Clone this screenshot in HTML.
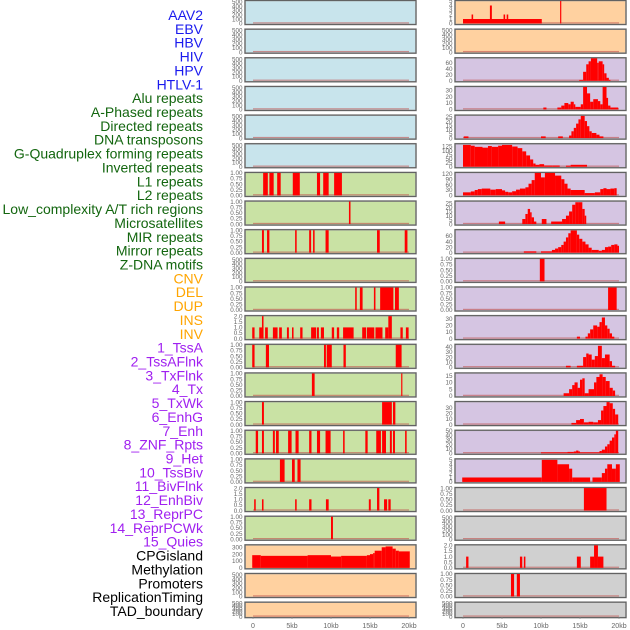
<!DOCTYPE html>
<html><head><meta charset="utf-8"><style>
html,body{margin:0;padding:0;background:#fff;}
svg{display:block;font-family:"Liberation Sans",sans-serif;}
</style></head><body>
<svg id="chart" width="630" height="630" viewBox="0 0 630 630" xmlns="http://www.w3.org/2000/svg"></svg>
<script>
const labels = ["AAV2","EBV","HBV","HIV","HPV","HTLV-1","Alu repeats","A-Phased repeats","Directed repeats","DNA transposons","G-Quadruplex forming repeats","Inverted repeats","L1 repeats","L2 repeats","Low_complexity A/T rich regions","Microsatellites","MIR repeats","Mirror repeats","Z-DNA motifs","CNV","DEL","DUP","INS","INV","1_TssA","2_TssAFlnk","3_TxFlnk","4_Tx","5_TxWk","6_EnhG","7_Enh","8_ZNF_Rpts","9_Het","10_TssBiv","11_BivFlnk","12_EnhBiv","13_ReprPC","14_ReprPCWk","15_Quies","CPGisland","Methylation","Promoters","ReplicationTiming","TAD_boundary"];
const labelGroups = ["v","v","v","v","v","v","r","r","r","r","r","r","r","r","r","r","r","r","r","s","s","s","s","s","c","c","c","c","c","c","c","c","c","c","c","c","c","c","c","k","k","k","k","k"];
const xTicks = [0,5,10,15,20];
const xTickLabels = ["0","5kb","10kb","15kb","20kb"];
const leftBg = ["b","b","b","b","b","b","g","g","g","g","g","g","g","g","g","g","g","g","g","o","o","o"];
const rightBg = ["o","o","p","p","p","p","p","p","p","p","p","p","p","p","p","p","p","g2","g2","g2","g2","g2"];
const leftYmax = [520,520,520,520,520,520,1,1,1,520,1,2,1,1,1,1,1,2,1,328,520,520];
const rightYmax = [5,520,75,35,26.4,139,125,26.8,81,1,1,34,44,16.6,40,50,5.1,1,520,2,1,520];
const leftTicks = ["k","k","k","k","k","k","u","u","u","k","u","t","u","u","u","u","u","t","u","c","k","k"];
const rightTicks = [[0,1,2,3,4,5],"k",[0,20,40,60],[0,10,20,30],[0,5,10,15,20,25],[0,25,50,75,100,125],[0,30,60,90,120],[0,5,10,15,20,25],[0,20,40,60],"u","u",[0,10,20,30],[0,10,20,30,40],[0,5,10,15],[0,10,20,30],[0,10,20,30,40,50],[0,1,2,3,4,5],"u","k","t","u","k"];
const leftData = [
 [],[],[],[],[],[],
 [[1.3,1.9,1],[2.1,2.65,1],[3.1,3.55,1],[5.1,6.0,1],[8.2,8.6,1],[9.0,9.7,1],[10.4,11.4,1]],
 [[12.3,12.5,1]],
 [[1.15,1.4,1],[1.8,2.1,1],[5.4,5.6,1],[7.2,7.45,1],[7.7,7.9,1],[9.3,9.7,1],[15.9,16.25,1],[19.45,19.8,1]],
 [],
 [[13.1,13.3,1],[13.7,14.05,1],[15.5,15.7,1],[16.3,18.0,1],[18.2,18.7,1]],
 [[-0.1,0.2,1],[0.8,1.15,1],[1.15,1.35,2],[1.55,1.9,1],[2.55,3.15,1],[3.35,3.7,1],[4.35,4.6,1],[5.0,5.2,1],[6.05,6.35,1],[7.45,8.1,1],[8.2,8.45,1],[8.7,9.1,1],[10.1,10.4,1],[10.75,11.05,1],[11.55,12.9,1],[14.0,14.5,1],[14.6,15.55,1],[15.7,16.6,1],[16.95,17.35,1],[17.35,17.8,2],[18.9,19.2,1],[19.6,19.95,1]],
 [[-0.1,0.2,1],[1.65,2.05,1],[9.1,9.35,1],[9.45,10.1,1],[11.6,11.9,1],[18.3,19.05,1]],
 [[7.55,7.9,1],[19.0,19.15,1]],
 [[1.15,1.4,1],[16.55,17.8,1],[17.95,18.25,1]],
 [[0.35,0.65,1],[1.15,1.4,1],[2.55,2.8,1],[2.95,3.3,1],[4.5,4.95,1],[5.45,5.85,1],[7.2,7.5,1],[8.2,8.6,1],[9.3,9.95,1],[11.55,11.75,1],[14.4,14.7,1],[15.8,16.4,1],[16.55,17.05,1],[17.55,17.8,1],[17.95,18.2,1],[19.5,19.7,1]],
 [[3.45,4.05,1],[5.0,5.35,1],[5.7,6.1,1]],
 [[0.15,0.35,1],[1.15,1.35,1],[5.4,5.6,1],[7.2,7.5,1],[9.35,9.7,1],[14.85,15.1,1],[15.9,16.2,2],[16.8,17.2,1],[17.35,17.65,1]],
 [[10.0,10.25,1]],
 [[-0.1,1.0,185],[1.0,7.0,175],[7.0,10.0,185],[10.0,11.3,165],[11.3,14.6,175],[14.6,15.0,185],[15.0,15.4,200],[15.4,15.6,215],[15.6,16.5,250],[16.5,17.0,300],[17.0,17.9,312],[17.9,18.3,280],[18.3,18.7,250],[18.7,20.1,240]],
 [],[]
];
const rightData = [
 [[0,10.1,1],[1.1,1.3,2],[3.45,3.7,4],[5.2,5.4,2],[5.6,5.8,2],[12.45,12.6,5]],
 [],
 [[14.9,15.4,3],[15.4,15.8,30],[15.8,16.1,55],[16.1,16.4,65],[16.4,17.2,75],[17.2,17.4,60],[17.4,17.9,65],[17.9,18.1,55],[18.1,18.4,25],[18.4,18.7,10],[18.7,18.9,3]],
 [[10.3,10.7,3],[12.1,12.6,3],[12.6,13.0,6],[13.0,13.5,10],[13.5,13.8,8],[13.8,14.2,12],[14.2,14.4,8],[14.4,15.1,4],[15.1,15.4,8],[15.4,15.9,35],[15.9,16.3,25],[16.3,16.7,12],[16.7,17.3,16],[17.3,17.6,13],[17.6,17.9,8],[17.9,18.4,35],[18.4,18.6,18],[18.6,18.9,6],[18.9,19.9,3]],
 [[0.1,0.7,2],[10.0,10.6,2],[12.2,12.8,2],[13.6,13.9,3],[13.9,14.2,8],[14.2,14.5,12],[14.5,14.8,17],[14.8,15.1,22],[15.1,15.6,26],[15.6,15.9,20],[15.9,16.2,14],[16.2,16.5,8],[16.5,17.1,6],[17.1,17.5,4],[17.5,18.0,2]],
 [[0,1.0,135],[1.0,1.5,130],[1.5,2.5,123],[2.5,3.2,118],[3.2,3.7,128],[3.7,4.5,123],[4.5,5.0,130],[5.0,6.3,135],[6.3,7.0,125],[7.0,7.6,115],[7.6,8.1,95],[8.1,8.6,70],[8.6,9.0,45],[9.0,9.3,20],[9.3,9.8,12],[9.8,10.4,16],[10.4,11.5,8],[11.5,12.4,8],[13.2,13.8,7],[13.8,15.9,12]],
 [[0,1.0,17],[1.0,1.5,22],[1.5,1.9,30],[1.9,2.4,35],[2.4,3.5,38],[3.5,4.2,32],[4.2,5.0,35],[5.0,5.4,28],[5.4,5.8,20],[5.8,6.3,17],[6.3,6.8,23],[6.8,7.3,32],[7.3,8.0,38],[8.0,8.4,45],[8.4,8.8,65],[8.8,9.2,85],[9.2,10.0,125],[10.0,10.5,100],[10.5,11.8,125],[11.8,12.6,110],[12.6,13.0,90],[13.0,13.4,65],[13.4,13.8,38],[13.8,15.6,30],[15.6,16.9,13],[16.9,17.6,17],[17.6,18.0,35],[18.0,18.4,40],[18.4,18.9,35],[18.9,19.4,38],[19.4,19.7,40]],
 [[4.6,5.4,3],[7.6,8.0,6],[8.0,8.3,12],[8.3,8.6,18],[8.6,8.8,14],[8.8,9.1,8],[9.1,9.4,3],[10.1,10.7,6],[11.3,12.7,3],[12.7,13.2,6],[13.2,13.6,10],[13.6,14.0,15],[14.0,14.4,23],[14.4,14.8,26],[14.8,15.3,26],[15.3,15.6,18],[15.6,15.8,10]],
 [[7.8,9.4,5],[10.0,11.4,5],[11.4,11.8,10],[11.8,12.2,15],[12.2,12.6,20],[12.6,12.9,28],[12.9,13.2,40],[13.2,13.5,55],[13.5,13.8,70],[13.8,14.6,80],[14.6,14.9,65],[14.9,15.3,50],[15.3,15.7,40],[15.7,16.1,30],[16.1,16.5,18],[16.5,17.4,10],[17.4,17.8,7],[17.8,18.2,10],[18.2,18.6,20],[18.6,19.0,22],[19.0,19.4,28],[19.4,19.8,30],[19.8,20.0,25]],
 [[9.85,10.45,1]],
 [[18.6,19.7,1]],
 [[14.6,15.0,3],[15.7,16.0,3],[16.0,16.3,8],[16.3,16.7,14],[16.7,17.2,20],[17.2,17.5,18],[17.5,17.8,25],[17.8,18.2,32],[18.2,18.5,20],[18.5,18.8,15],[18.8,19.1,8],[19.1,19.4,3]],
 [[13.2,13.8,3],[14.6,15.4,3],[15.4,15.8,20],[15.8,16.1,27],[16.1,16.5,25],[16.5,16.9,15],[16.9,17.3,22],[17.3,17.8,42],[17.8,18.2,18],[18.2,18.8,25],[18.8,19.1,12],[19.1,19.5,3]],
 [[12.9,13.6,2],[13.6,14.0,5],[14.0,14.3,8],[14.3,14.7,10],[14.7,15.0,6],[15.0,15.3,12],[15.3,15.6,13],[15.6,16.1,2],[16.1,16.8,5],[16.8,17.1,10],[17.1,17.5,14],[17.5,17.9,16],[17.9,18.3,14],[18.3,18.8,11],[18.8,19.2,6],[19.2,19.5,4]],
 [[13.9,14.5,3],[14.5,15.0,8],[15.0,15.5,10],[15.5,16.1,4],[16.1,16.7,5],[16.7,17.3,4],[17.3,17.7,8],[17.7,18.0,25],[18.0,18.4,33],[18.4,18.8,40],[18.8,19.2,38],[19.2,19.5,28],[19.5,19.9,18]],
 [[10.0,13.4,2],[13.4,14.2,3],[14.2,14.5,4],[14.5,14.8,6],[14.8,15.0,4],[15.0,17.5,2],[17.5,17.8,5],[17.8,18.2,8],[18.2,18.5,15],[18.5,18.8,20],[18.8,19.1,28],[19.1,19.4,35],[19.4,19.6,42],[19.6,19.9,50]],
 [[-0.1,10.1,1],[10.1,12.1,5],[12.1,13.6,4],[13.6,14.0,3],[14.0,16.3,1],[16.6,17.8,1],[17.8,18.2,2],[18.2,18.5,3],[18.5,19.1,4],[19.1,19.6,3],[19.6,20.1,4]],
 [[15.5,18.4,1]],
 [],
 [[0.4,0.7,1],[7.3,7.6,1],[7.8,8.0,1],[14.6,15.1,1],[16.3,16.8,1],[16.8,17.3,2],[17.3,18.0,1]],
 [[6.15,6.55,1],[6.9,7.3,1]],
 []
];

const NS = "http://www.w3.org/2000/svg";
const svg = document.getElementById("chart");
function el(tag, attrs, parent){const e=document.createElementNS(NS,tag);for(const k in attrs)e.setAttribute(k,attrs[k]);(parent||svg).appendChild(e);return e;}
const bgColors = {b:"#c8e4ec",g:"#c9e2a4",o:"#ffd1a0",p:"#d5c5e2",g2:"#d0d0d0"};
const labelColors = {v:"#1a1aee",r:"#13660f",s:"#ffa500",c:"#a020f0",k:"#000000"};
const tickSets = {k:[0,100,200,300,400,500],u:[0,0.25,0.5,0.75,1],t:[0,0.5,1,1.5,2],c:[0,100,200,300]};
function fmt(set,v){ if(set==="u") return v.toFixed(2); if(set==="t") return v.toFixed(1); return String(v); }
const PITCH = 28.65;
function rowTop(i){ return 0.5 + i*PITCH; }
function rowH(i){ return i===21 ? 15.5 : 24; }
function xScale(col, kb){ const x0 = col===0 ? 253 : 463; return x0 + kb*7.8; }

// labels
labels.forEach((t,i)=>{
  const e = el("text",{x:203,y:15+i*13.86+5,"text-anchor":"end","font-size":"14",fill:labelColors[labelGroups[i]]});
  e.textContent = t;
  
  
});

function drawPanel(col, i, bg, ymax, ticks, data){
  const left = col===0 ? 245 : 455, w = 171;
  const top = rowTop(i), h = rowH(i), bottom = top + h - 1;
  const g = el("g",{});
  
  
  el("rect",{x:left,y:top,width:w,height:h,fill:bgColors[bg],stroke:"#9a9a9a","stroke-width":"1.6"},g);
  el("rect",{x:left,y:top,width:w,height:h,fill:"none",stroke:"#555","stroke-width":"0.8"},g);
  const yS = v => bottom - Math.min(v/ymax,1)*(h-1.5);
  // ticks
  let tv, set;
  if (Array.isArray(ticks)) { tv = ticks; set = "n"; } else { tv = tickSets[ticks]; set = ticks; }
  const tmax = ticks==="k" ? 520 : ymax;
  tv.forEach(v=>{
    const y = bottom - (v/tmax)*(h-1.5);
    const t = el("text",{x:left-2.5,y:y+2.2,"text-anchor":"end","font-size":"6.3",fill:"#666"},g);
    t.textContent = fmt(set,v);
    
    
  });
  // baseline
  el("rect",{x:xScale(col,0),y:bottom-1.2,width:xScale(col,20)-xScale(col,0),height:1.2,fill:"#c0504d","fill-opacity":"0.6"},g);
  data.forEach(d=>{
    const x0 = Math.max(xScale(col,d[0]), left+1), x1 = Math.min(xScale(col,d[1]), left+w-1);
    const y = yS(d[2]);
    const r = el("rect",{x:x0,y:y,width:Math.max(x1-x0,1),height:bottom-y,fill:"#ff0000"},g);
    
    
  });
}
for (let i=0;i<22;i++){
  drawPanel(0,i,leftBg[i],leftYmax[i],leftTicks[i],leftData[i]);
  drawPanel(1,i,rightBg[i],rightYmax[i],rightTicks[i],rightData[i]);
}
// x axes
[0,1].forEach(col=>{
  xTicks.forEach((v,j)=>{
    const x = xScale(col,v);
    el("line",{x1:x,x2:x,y1:617,y2:619,stroke:"#888","stroke-width":"0.6"});
    const t = el("text",{x:x,y:628,"text-anchor":"middle","font-size":"7",fill:"#666"});
    t.textContent = xTickLabels[j];
    
    
  });
});
</script>
</body></html>
